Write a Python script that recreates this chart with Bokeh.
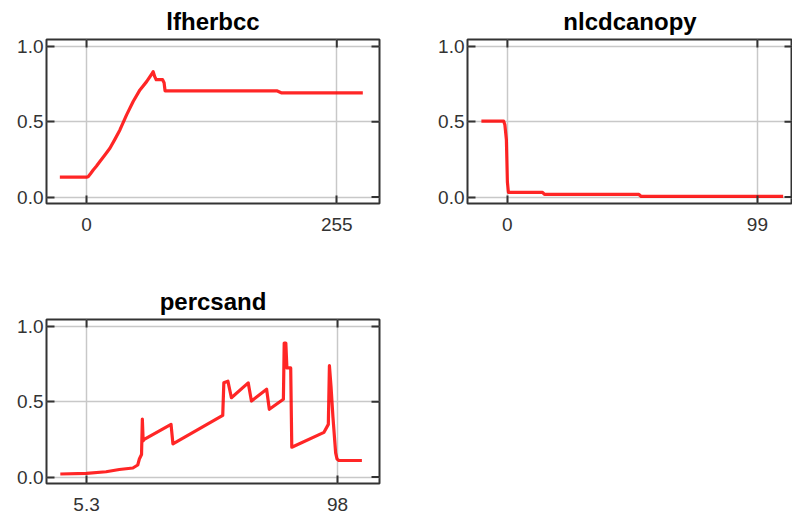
from bokeh.plotting import figure
from bokeh.layouts import column, row
from bokeh.models import FixedTicker, Range1d, Spacer
from bokeh.embed import file_html
from bokeh.resources import INLINE

# ---- data ----
titles = ["lfherbcc", "nlcdcanopy", "percsand"]

lf_x = [-27.2, 0.0, 1.6, 4.0, 6.8, 10.0, 13.6, 18.5, 23.8, 29.0, 34.0, 40.8, 47.5, 54.4,
        61.2, 66.3, 67.9, 69.5, 71.0, 77.5, 79.0, 80.0, 193.8, 198.9, 281.5]
lf_y = [0.132, 0.132, 0.135, 0.155, 0.18, 0.205, 0.236, 0.278, 0.324, 0.385, 0.446, 0.546,
        0.635, 0.712, 0.767, 0.816, 0.833, 0.80, 0.78, 0.78, 0.76, 0.706, 0.706, 0.692, 0.692]
lf_ticks = [0, 255]
lf_labels = ["0", "255"]

nl_x = [-10.3, -1.5, -1.0, -0.4, 0.0, 0.4, 13.9, 14.7, 52.1, 53.0, 109.2]
nl_y = [0.505, 0.505, 0.48, 0.38, 0.10, 0.031, 0.031, 0.017, 0.017, 0.004, 0.004]
nl_ticks = [0, 99]
nl_labels = ["0", "99"]

ps_x = [-4.4, 5.3, 12.5, 17.4, 22.4, 24.2, 24.8, 25.6, 25.9, 26.2, 26.6, 36.5, 37.2,
        55.6, 56.0, 57.5, 58.8, 65.0, 66.2, 71.8, 72.8, 78.0, 78.3, 78.9, 79.3, 80.7,
        81.1, 93.0, 94.6, 95.0, 95.6, 96.3, 97.3, 97.8, 98.5, 107.0]
ps_y = [0.02, 0.024, 0.035, 0.05, 0.06, 0.08, 0.12, 0.15, 0.385, 0.24, 0.25, 0.35, 0.22,
        0.41, 0.626, 0.637, 0.527, 0.626, 0.505, 0.583, 0.45, 0.517, 0.89, 0.89, 0.725, 0.725,
        0.198, 0.297, 0.35, 0.74, 0.60, 0.40, 0.16, 0.12, 0.11, 0.11]
ps_ticks = [5.3, 98]
ps_labels = ["5.3", "98"]

y_ticks = [0.0, 0.5, 1.0]
y_labels = ["0.0", "0.5", "1.0"]

FONT = "Liberation Sans"
DARK = "#333333"
Y_RANGE = (-0.043, 1.047)
FRAME_H = 164
TICK_LEN = 8


def make_panel(title, xs, ys, xticks, xlabels, xr, bl, fw, br, bt, bb):
    p = figure(frame_width=fw, frame_height=FRAME_H,
               min_border_left=bl, min_border_right=br,
               min_border_top=bt, min_border_bottom=bb,
               x_range=Range1d(*xr), y_range=Range1d(*Y_RANGE),
               output_backend="svg", toolbar_location=None,
               title=title)
    p.title.text_font = FONT
    p.title.text_font_size = "24px"
    p.title.text_font_style = "bold"
    p.title.text_color = "#000000"
    p.title.align = "center"
    p.title.standoff = 10

    p.outline_line_color = DARK
    p.outline_line_width = 2
    p.outline_line_alpha = 1.0

    xt = FixedTicker(ticks=xticks)
    yt = FixedTicker(ticks=y_ticks)

    for ax in p.xaxis:
        ax.ticker = xt
        ax.major_label_overrides = {t: l for t, l in zip(xticks, xlabels)}
        ax.major_label_standoff = 14
    for ax in p.yaxis:
        ax.ticker = yt
        ax.major_label_overrides = {t: l for t, l in zip(y_ticks, y_labels)}
        ax.major_label_standoff = 3
    for ax in p.xaxis + p.yaxis:
        ax.axis_line_color = None
        ax.major_tick_in = TICK_LEN
        ax.major_tick_out = 0
        ax.major_tick_line_color = DARK
        ax.major_tick_line_width = 2
        ax.minor_tick_line_color = None
        ax.major_label_text_font = FONT
        ax.major_label_text_font_size = "19px"
        ax.major_label_text_color = DARK

    p.xgrid.ticker = xt
    p.ygrid.ticker = yt
    p.grid.grid_line_color = "#c8c8c8"
    p.grid.grid_line_width = 1.5

    # inward tick marks on the top and right edges of the frame
    dx = TICK_LEN * (xr[1] - xr[0]) / fw
    dy = TICK_LEN * (Y_RANGE[1] - Y_RANGE[0]) / FRAME_H
    p.segment(x0=[xr[1]] * len(y_ticks), y0=y_ticks,
              x1=[xr[1] - dx] * len(y_ticks), y1=y_ticks,
              line_color=DARK, line_width=2)
    p.segment(x0=xticks, y0=[Y_RANGE[1]] * len(xticks),
              x1=xticks, y1=[Y_RANGE[1] - dy] * len(xticks),
              line_color=DARK, line_width=2)

    p.line(xs, ys, line_color="#ff0000", line_width=3.2, line_alpha=0.85,
           line_join="round")
    return p


p1 = make_panel(titles[0], lf_x, lf_y, lf_ticks, lf_labels, (-40.8, 298.5),
                46, 333, 41, 38, 56)
p2 = make_panel(titles[1], nl_x, nl_y, nl_ticks, nl_labels, (-15.8, 112.9),
                47, 325, 0, 38, 56)
p3 = make_panel(titles[2], ps_x, ps_y, ps_ticks, ps_labels, (-9.5, 113.5),
                46, 333, 41, 60, 34)

layout = column(row(p1, p2), row(p3, Spacer(width=372, height=258)))

with open("out.html", "w") as f:
    f.write(file_html(layout, INLINE))
